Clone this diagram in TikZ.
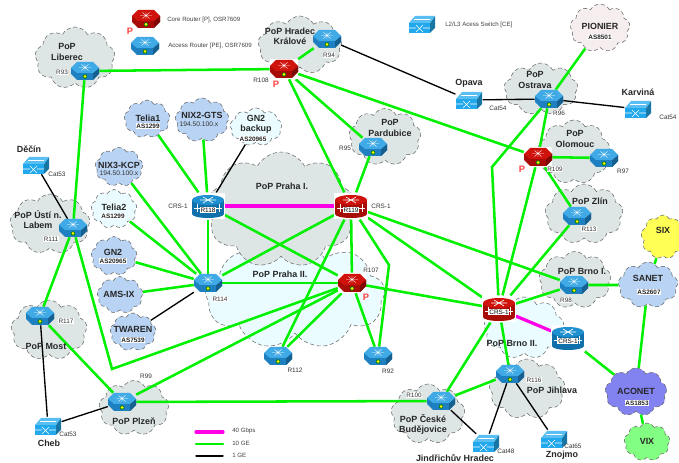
\documentclass[tikz,border=0pt]{standalone}
\usepackage{fontspec}
\setmainfont{Liberation Sans}
\usepackage{xcolor}
\usetikzlibrary{positioning,shapes.symbols}

\definecolor{popgrey}{HTML}{DDE5E5}
\definecolor{popcyan}{HTML}{EAFCFF}
\definecolor{extblue}{HTML}{B8D3F3}
\definecolor{extpink}{HTML}{F6EEEE}
\definecolor{extviolet}{HTML}{8282F0}
\definecolor{extgreen}{HTML}{82FF82}
\definecolor{extyellow}{HTML}{FFFF55}
\definecolor{linkgreen}{HTML}{00F000}
\definecolor{linkpink}{HTML}{FF00E6}
\definecolor{pered}{HTML}{D0120C}
\definecolor{persid}{HTML}{A80C06}
\definecolor{peblue}{HTML}{40AAE6}
\definecolor{pesid}{HTML}{1E80C0}
\definecolor{crsblue}{HTML}{1E90D0}
\definecolor{crssid}{HTML}{0F70AC}
\definecolor{swblue}{HTML}{22A8EC}

\pgfdeclarelayer{clouds}
\pgfdeclarelayer{links}
\pgfsetlayers{clouds,links,main}

% Router drawn inside its node
\newcommand{\routericon}[2]{
  \begin{scope}[shift={(path picture bounding box.center)},x=0.75pt,y=0.75pt]
    \fill[#2] (-14,3) -- (-14,-3) -- (-8,-9) -- (8,-9) -- (14,-3) -- (14,3) -- cycle;
    \fill[#2!75!black] (8,-9) -- (14,-3) -- (14,3) -- (8,-2) -- cycle;
    \fill[#1] (-14,3) -- (-8,9) -- (8,9) -- (14,3) -- (8,-2) -- (-8,-2) -- cycle;
    \draw[white, line width=0.3pt] (-6,3.5) -- (6,3.5) (-3.5,6.5) -- (3.5,0.5) (-3.5,0.5) -- (3.5,6.5) (0,7) -- (0,0);
    \fill[green!50!black] (0,-5.5) circle (2.2);
    \fill[yellow] (0,-4) -- (1.5,-5.5) -- (0,-7) -- (-1.5,-5.5) -- cycle;
  \end{scope}}

% CRS-1 drawn inside its node
\newcommand{\crsicon}[2]{
  \begin{scope}[shift={(path picture bounding box.center)},x=0.75pt,y=0.75pt]
    \fill[#2] (-16,6) rectangle (16,-8);
    \fill[#2] (0,-8) ellipse (16 and 4);
    \fill[#1] (0,6) ellipse (16 and 5);
    \draw[white, line width=0.5pt] (-8,6) -- (8,6) (-5,9) -- (5,3) (-5,3) -- (5,9);
    \draw[white, line width=0.7pt] (-14,-2) -- (14,-2) (-11,-6) -- (-11,2) (11,-6) -- (11,2);
  \end{scope}}

% Switch drawn inside its node
\newcommand{\switchicon}{
  \begin{scope}[shift={(path picture bounding box.center)},x=0.75pt,y=0.75pt]
    \fill[swblue] (-13,-9) rectangle (8,1);
    \fill[swblue!70!black] (8,-9) -- (13,-4) -- (13,8) -- (8,1) -- cycle;
    \fill[swblue!75!white] (-13,1) -- (-7,8) -- (13,8) -- (8,1) -- cycle;
    \draw[white, line width=0.5pt] (-13,-4) -- (-6,-4) (1,-4) -- (8,-4) (-6,-8) -- (1,-1) (-6,-1) -- (1,-8) (-8,4.5) -- (8,4.5);
  \end{scope}}

\begin{document}
\begin{tikzpicture}[x=0.75pt, y=-0.75pt,
  popcloud/.style 2 args={shape=cloud, cloud puffs=9, cloud puff arc=125, cloud ignores aspect,
    inner sep=0pt, minimum width=#1*0.75pt, minimum height=#2*0.75pt,
    draw=black!60, densely dashed, line width=0.4pt, fill=popgrey},
  access/.style={rectangle, inner sep=0pt, minimum width=21pt, minimum height=13.5pt,
    path picture={\routericon{peblue}{pesid}}},
  core/.style={rectangle, inner sep=0pt, fill=white, minimum width=21pt, minimum height=15pt,
    path picture={\routericon{pered}{persid}}},
  crsa/.style={rectangle, inner sep=0pt, fill=white, minimum width=25pt, minimum height=20pt,
    path picture={\crsicon{crsblue}{crssid}}},
  crsc/.style={rectangle, inner sep=0pt, fill=white, minimum width=25pt, minimum height=20pt,
    path picture={\crsicon{pered}{persid}}},
  switch/.style={rectangle, inner sep=0pt, minimum width=20pt, minimum height=13.5pt,
    path picture={\switchicon}},
  poplabel/.style={font=\fontsize{6.7}{7.6}\selectfont\bfseries, align=center, inner sep=0pt, text=black!85},
  aslabel/.style={font=\fontsize{4.8}{5.5}\selectfont\bfseries, fill=white, inner sep=0.4pt, text=black!85},
  iplabel/.style={font=\fontsize{5}{6}\selectfont, inner sep=0pt, text=black!80},
  rlabel/.style={font=\fontsize{4.8}{5.5}\selectfont, fill=white, inner sep=0.4pt, text=black!80},
  clabel/.style={font=\fontsize{4.8}{5.5}\selectfont, inner sep=0pt, text=black!80},
  crstext/.style={font=\fontsize{4.8}{5.5}\selectfont, fill=white, inner sep=0.5pt, text=black},
  plabel/.style={font=\fontsize{7}{8}\selectfont\bfseries, inner sep=0pt, text=red!75!white},
  legendtext/.style={font=\fontsize{4.6}{5.5}\selectfont, anchor=west, inner sep=0pt, text=black!75},
  link40/.style={linkpink, line width=2.4pt},
  link10/.style={linkgreen, line width=1.9pt},
  link1/.style={black, line width=1pt}
]
\useasboundingbox (0,0) rectangle (679,463);

% Clouds of the PoPs and the peers
\begin{pgfonlayer}{clouds}
\node[popcloud={180}{108}, fill=popcyan] (cPraha2) at (295,295) {};
\node[popcloud={150}{116}] (cPraha1) at (281,210) {};
\node[popcloud={80}{62}] (cLiberec) at (75,58) {};
\node[popcloud={84}{58}] (cHradec) at (300,45) {};
\node[popcloud={72}{57}] (cPardubice) at (385,137) {};
\node[popcloud={74}{52}] (cOstrava) at (541,89) {};
\node[popcloud={60}{48}, fill=extpink] (cPionier) at (600,28) {};
\node[popcloud={72}{64}] (cOlomouc) at (574,152) {};
\node[popcloud={78}{60}] (cZlin) at (584,214) {};
\node[popcloud={44}{44}, fill=extyellow] (cSix) at (663,237) {};
\node[popcloud={60}{46}, fill=extblue] (cSanet) at (648,285) {};
\node[popcloud={62}{48}, fill=extviolet] (cAconet) at (636,392) {};
\node[popcloud={46}{38}, fill=extgreen] (cVix) at (647,442) {};
\node[popcloud={80}{62}, fill=popcyan] (cBrno2) at (524,328) {};
\node[popcloud={72}{57}] (cBrno1) at (575,280) {};
\node[popcloud={76}{60}] (cJihlava) at (527,389) {};
\node[popcloud={74}{60}] (cBudejovice) at (428,414) {};
\node[popcloud={46}{38}, fill=extblue] (cTelia1) at (147,119) {};
\node[popcloud={54}{44}, fill=extblue] (cNix2) at (202,120) {};
\node[popcloud={52}{38}, fill=popcyan] (cGn2b) at (256,127) {};
\node[popcloud={48}{39}, fill=extblue] (cNix3) at (119,167) {};
\node[popcloud={46}{39}, fill=popcyan] (cTelia2) at (114,209) {};
\node[popcloud={46}{39}, fill=extblue] (cGn2) at (114,256) {};
\node[popcloud={46}{37}, fill=extblue] (cAms) at (120,295) {};
\node[popcloud={46}{38}, fill=extblue] (cTwaren) at (133,332) {};
\node[popcloud={80}{60}] (cUsti) at (50,224) {};
\node[popcloud={76}{60}] (cMost) at (49,330) {};
\node[popcloud={70}{55}] (cPlzen) at (134,408) {};
\end{pgfonlayer}

% Core routers
\node[core] (R108) at (284,69) {};
\node[core] (R109) at (538,157) {};
\node[core] (R107) at (352,283) {};
\node[core] (lCore) at (146,19) {};

% Access routers
\node[access] (R93) at (85,71) {};
\node[access] (R94) at (327,39) {};
\node[access] (R95) at (373,147) {};
\node[access] (R96) at (549,99) {};
\node[access] (R97) at (604,158) {};
\node[access] (R113) at (577,216) {};
\node[access] (R98) at (574,285) {};
\node[access] (R116) at (510,374) {};
\node[access] (R100) at (441,401) {};
\node[access] (R92) at (378,356) {};
\node[access] (R112) at (278,356) {};
\node[access] (R114) at (208,283) {};
\node[access] (R111) at (73,228) {};
\node[access] (R117) at (40,316) {};
\node[access] (R99) at (122,402) {};
\node[access] (lAccess) at (145,46) {};

% CRS-1 routers
\node[crsa] (R118) at (208,206) {};
\node[crsc] (R119) at (351,206) {};
\node[crsc] (R121) at (499,309) {};
\node[crsa] (R120) at (568,338) {};

% Switches
\node[switch] (Decin) at (36,165) {};
\node[switch] (Opava) at (469,100) {};
\node[switch] (Karvina) at (638,109) {};
\node[switch] (Cheb) at (48,426) {};
\node[switch] (Jindrichuv) at (486,443) {};
\node[switch] (Znojmo) at (554,439) {};
\node[switch] (lSwitch) at (422,24) {};

% Bends of the long links
\coordinate (bendOstrava) at (492,167);
\coordinate (bendPlzen) at (112,369);
\coordinate (bendR92) at (389,265);

% Legend line ends
\coordinate (k40a) at (196,432);
\coordinate (k40b) at (223,432);
\coordinate (k10a) at (196,444);
\coordinate (k10b) at (223,444);
\coordinate (k1a) at (196,456);
\coordinate (k1b) at (223,456);

\begin{pgfonlayer}{links}
% 40 Gbps
\draw[link40] (R118) -- (R119);
\draw[link40] (R121) -- (R120);
\draw[link40, line cap=round] (k40a) -- (k40b);

% 10 GE - north
\draw[link10] (R93) -- (R108);
\draw[link10] (R93) -- (R111);
\draw[link10] (R108) -- (R94);
\draw[link10] (R108) -- (R95);
\draw[link10] (R108) -- (R109);
\draw[link10] (R108) -- (R119);
\draw[link10] (R95) -- (R119);
\draw[link10] (R96) -- (cPionier);
\draw[link10] (R96) -- (R109);
\draw[link10] (R96) -- (bendOstrava) -- (R121);
\draw[link10] (R109) -- (R97);
\draw[link10] (R109) -- (R113);
\draw[link10] (R109) -- (R121);
\draw[link10] (R113) -- (R121);

% 10 GE - Praha
\draw[link10] (R119) -- (R121);
\draw[link10] (R119) -- (R98);
\draw[link10] (R119) -- (bendR92) -- (R92);
\draw[link10] (R119) -- (R107);
\draw[link10] (R119) -- (R112);
\draw[link10] (R119) -- (R114);
\draw[link10] (R118) -- (R107);
\draw[link10] (R118) -- (R114);
\draw[link10] (R114) -- (R107);
\draw[link10] (R107) -- (R121);
\draw[link10] (R107) -- (R92);
\draw[link10] (R107) -- (R112);
\draw[link10] (R107) -- (R99);
\draw[link10] (R107) -- (bendPlzen) -- (R111);

% 10 GE - peers
\draw[link10] (cTelia1) -- (R118);
\draw[link10] (cNix2) -- (R118);
\draw[link10] (cNix3) -- (R114);
\draw[link10] (cTelia2) -- (R114);
\draw[link10] (cGn2) -- (R114);
\draw[link10] (cAms) -- (R114);

% 10 GE - west and south
\draw[link10] (R111) -- (R117);
\draw[link10] (R117) -- (R99);
\draw[link10] (R99) -- (R100);
\draw[link10] (R100) -- (R121);
\draw[link10] (R100) -- (R116);
\draw[link10] (R116) -- (R121);
\draw[link10] (R121) -- (R98);
\draw[link10] (R98) -- (cSanet);
\draw[link10] (cSanet) -- (cSix);
\draw[link10] (cSanet) -- (cAconet);
\draw[link10] (cAconet) -- (cVix);
\draw[link10] (R120) -- (cAconet);
\draw[link10, line cap=round] (k10a) -- (k10b);

% 1 GE
\draw[link1] (cGn2b) -- (R118);
\draw[link1] (cTwaren) -- (R114);
\draw[link1] (Decin) -- (R111);
\draw[link1] (R117) -- (Cheb);
\draw[link1] (Cheb) -- (R99);
\draw[link1] (R94) -- (Opava);
\draw[link1] (Opava) -- (R96);
\draw[link1] (R96) -- (Karvina);
\draw[link1] (R100) -- (Jindrichuv);
\draw[link1] (R116) -- (Jindrichuv);
\draw[link1] (R116) -- (Znojmo);
\draw[link1, line cap=round] (k1a) -- (k1b);
\end{pgfonlayer}

% PoP names
\node[poplabel] (tLiberec) at (67,52) {PoP\\Liberec};
\node[poplabel] (tHradec) at (290,36) {PoP Hradec\\Králové};
\node[poplabel] (tPardubice) at (390,128) {PoP\\Pardubice};
\node[poplabel] (tOstrava) at (535,80) {PoP\\Ostrava};
\node[poplabel] (tOlomouc) at (575,139) {PoP\\Olomouc};
\node[poplabel] (tZlin) at (590,201) {PoP Zlín};
\node[poplabel] (tBrno1) at (582,271) {PoP Brno I.};
\node[poplabel] (tBrno2) at (512,343) {PoP Brno II.};
\node[poplabel] (tJihlava) at (552,390) {PoP Jihlava};
\node[poplabel] (tBudejovice) at (423,424) {PoP České\\Budějovice};
\node[poplabel] (tPraha1) at (282,186) {PoP Praha I.};
\node[poplabel] (tPraha2) at (280,274) {PoP Praha II.};
\node[poplabel] (tUsti) at (38,220) {PoP Ústí n.\\Labem};
\node[poplabel] (tMost) at (46,346) {PoP Most};
\node[poplabel] (tPlzen) at (134,421) {PoP Plzeň};

% Peer names
\node[poplabel] (tPionier) at (600,26) {PIONIER};
\node[aslabel] (aPionier) at (600,37) {AS8501};
\node[poplabel] (tSix) at (663,230) {SIX};
\node[poplabel] (tSanet) at (648,278) {SANET};
\node[aslabel] (aSanet) at (649,292) {AS2607};
\node[poplabel] (tAconet) at (636,391) {ACONET};
\node[aslabel] (aAconet) at (637,403) {AS1853};
\node[poplabel] (tVix) at (647,441) {VIX};
\node[poplabel] (tTelia1) at (148,118) {Telia1};
\node[aslabel] (aTelia1) at (148,126) {AS1299};
\node[poplabel] (tNix2) at (202,115) {NIX2-GTS};
\node[iplabel] (iNix2) at (199,124) {194.50.100.x};
\node[poplabel] (tGn2b) at (256,124) {GN2\\backup};
\node[aslabel] (aGn2b) at (253,139) {AS20965};
\node[poplabel] (tNix3) at (119,165) {NIX3-KCP};
\node[iplabel] (iNix3) at (119,173) {194.50.100.x};
\node[poplabel] (tTelia2) at (114,207) {Telia2};
\node[aslabel] (aTelia2) at (113,216) {AS1299};
\node[poplabel] (tGn2) at (113,252) {GN2};
\node[aslabel] (aGn2) at (113,261) {AS20965};
\node[poplabel] (tAms) at (119,294) {AMS-IX};
\node[poplabel] (tTwaren) at (133,329) {TWAREN};
\node[aslabel] (aTwaren) at (133,340) {AS7539};

% Switch names
\node[poplabel] (tDecin) at (29,149) {Děčín};
\node[poplabel] (tOpava) at (469,83) {Opava};
\node[poplabel] (tKarvina) at (638,92) {Karviná};
\node[poplabel] (tCheb) at (49,443) {Cheb};
\node[poplabel] (tJindrichuv) at (455,458) {Jindřichův Hradec};
\node[poplabel] (tZnojmo) at (562,455) {Znojmo};
\node[clabel] (sDecin) at (57,174) {Cat53};
\node[clabel] (sOpava) at (498,108) {Cat54};
\node[clabel] (sKarvina) at (668,117) {Cat54};
\node[clabel] (sCheb) at (68,434) {Cat53};
\node[clabel] (sJindrichuv) at (506,451) {Cat48};
\node[clabel] (sZnojmo) at (573,446) {Cat65};

% Router names
\node[rlabel] (rR93) at (62,72) {R93};
\node[rlabel] (rR94) at (329,55) {R94};
\node[rlabel] (rR95) at (345,148) {R95};
\node[rlabel] (rR96) at (559,113) {R96};
\node[rlabel] (rR97) at (623,171) {R97};
\node[rlabel] (rR98) at (566,300) {R98};
\node[rlabel] (rR99) at (146,376) {R99};
\node[rlabel] (rR100) at (414,395) {R100};
\node[rlabel] (rR107) at (371,270) {R107};
\node[rlabel] (rR108) at (261,80) {R108};
\node[rlabel] (rR109) at (555,169) {R109};
\node[rlabel] (rR111) at (51,239) {R111};
\node[rlabel] (rR112) at (295,370) {R112};
\node[rlabel] (rR113) at (589,229) {R113};
\node[rlabel] (rR114) at (220,299) {R114};
\node[rlabel] (rR116) at (534,380) {R116};
\node[rlabel] (rR117) at (66,321) {R117};
\node[rlabel] (rR92) at (388,371) {R92};
\node[crstext] (rR118) at (208,210) {R118};
\node[crstext] (rR119) at (351,210) {R119};
\node[crstext] (rR121) at (499,312) {CRS-1};
\node[crstext] (rR120) at (568,341) {CRS-1};
\node[clabel] (nR118) at (178,206) {CRS-1};
\node[clabel] (nR119) at (381,206) {CRS-1};

% P marks
\node[plabel] (pLegend) at (130,31) {P};
\node[plabel] (pR108) at (276,84) {P};
\node[plabel] (pR109) at (522,169) {P};
\node[plabel] (pR107) at (366,297) {P};

% Legend
\node[legendtext] (lCoreText) at (167,20) {Core Router [P], OSR7609};
\node[legendtext] (lAccessText) at (168,46) {Access Router [PE], OSR7609};
\node[legendtext] (lSwitchText) at (445,25) {L2/L3 Acess Switch [CE]};
\node[legendtext] (k40) at (232,431) {40 Gbps};
\node[legendtext] (k10) at (232,443) {10 GE};
\node[legendtext] (k1) at (232,455) {1 GE};

\end{tikzpicture}
\end{document}
